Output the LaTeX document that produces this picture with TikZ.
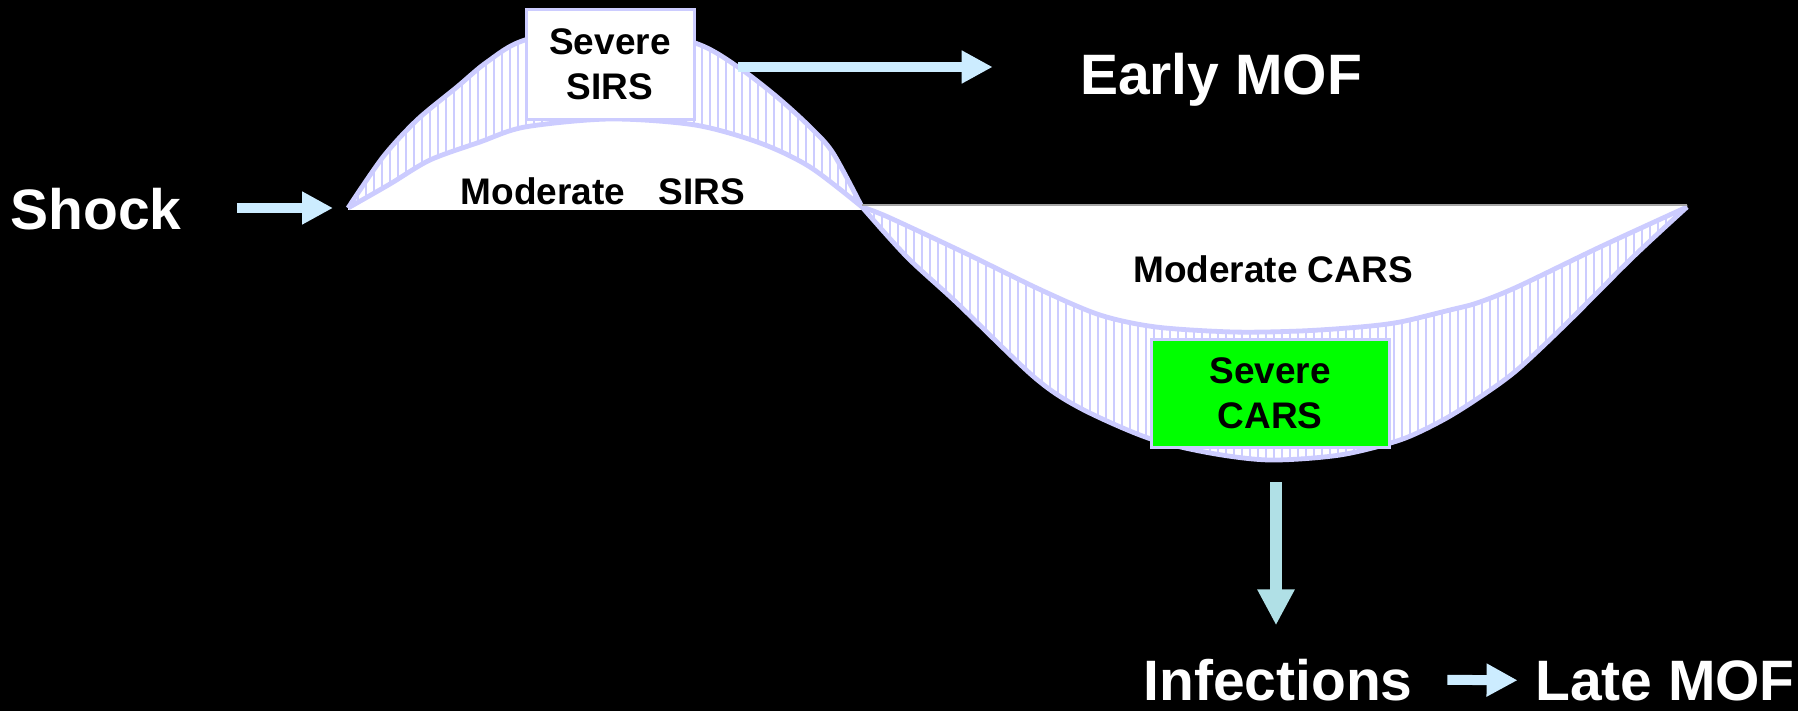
\documentclass[tikz,border=0pt]{standalone}
\usepackage{fontspec}
\setmainfont{Liberation Sans}
\usetikzlibrary{arrows.meta}

\definecolor{lavender}{RGB}{204,204,255}
\definecolor{arrowblue}{RGB}{204,236,255}
\definecolor{downblue}{RGB}{176,224,230}
\definecolor{severegreen}{RGB}{0,255,0}

\tikzset{
  biglabel/.style={text=white,inner sep=0pt,font=\fontsize{28.5}{30}\selectfont\bfseries},
  smalllabel/.style={text=black,inner sep=0pt,font=\fontsize{18.5}{22.5}\selectfont\bfseries},
  severebox/.style={smalllabel,draw=lavender,line width=1.5pt,align=center},
  fatarrow/.style={draw=arrowblue,line width=5pt,-{Triangle[width=15.5pt,length=15.5pt]}},
  downarrow/.style={draw=downblue,line width=6pt,-{Triangle[width=17.5pt,length=18pt]}},
  hatchline/.style={lavender,line width=1.4pt},
  rim/.style={lavender,line width=2.4pt,line join=round},
}

% the two curves of each wave (pixel units)
\newcommand{\sirsout}{plot[smooth] coordinates {(348,208) (383,157) (417,120) (457,87) (487,62) (525,40) (610,24) (695,43) (738,67) (777,97) (810,127) (833,153) (862,207)}}
\newcommand{\sirsin}{plot[smooth] coordinates {(348,208) (390,184) (430,160) (480,142) (525,127) (610,119) (695,125) (760,143) (810,167) (862,207)}}
\newcommand{\carsout}{plot[smooth] coordinates {(862,207) (907,257) (957,303) (1034,377) (1080,408) (1148,438) (1210,453) (1270,460) (1340,455) (1400,440) (1443,420) (1480,397) (1517,370) (1567,323) (1633,257) (1687,207)}}
\newcommand{\carsin}{plot[smooth] coordinates {(862,207) (888,217) (965,253) (1041,290) (1100,315) (1156,327) (1233,332) (1300,331) (1360,327) (1400,322) (1450,310) (1477,303) (1517,287) (1600,247) (1687,207)}}

\begin{document}
\begin{tikzpicture}[x=0.5pt,y=-0.5pt]
  \fill[black] (0,0) rectangle (1798,711);
  \useasboundingbox (0,0) rectangle (1798,711);

  % SIRS wave
  \fill[white] \sirsout -- (862,210) -- (348,210) -- cycle;
  \begin{scope}
    \clip \sirsout -- cycle;
    \foreach \x in {350,358,...,862}
      \draw[hatchline] (\x,0) -- (\x,210);
  \end{scope}
  \fill[white] \sirsin -- (862,210) -- (348,210) -- cycle;

  % CARS wave
  \fill[white] \carsout -- (1687,205) -- (862,205) -- cycle;
  \begin{scope}
    \clip \carsout -- cycle;
    \foreach \x in {866,874,...,1686}
      \draw[hatchline] (\x,200) -- (\x,470);
  \end{scope}
  \fill[white] \carsin -- (1687,205) -- (862,205) -- cycle;

  \draw[rim] \sirsout;
  \draw[rim] \sirsin;
  \draw[rim] \carsout;
  \draw[rim] \carsin;
  \draw[gray!70,line width=0.6pt] (862,205) -- (1687,205);

  % boxes and labels
  \node[severebox,fill=white,minimum width=84pt,minimum height=55pt] (sirsbox) at (610,64.5) {Severe\\SIRS};
  \node[severebox,fill=severegreen,minimum width=119pt,minimum height=54pt] (carsbox) at (1270,393) {Severe\\CARS};
  \node[smalllabel,anchor=base] (modsirs) at (603,205) {Moderate\hspace{0.9em}SIRS};
  \node[smalllabel,anchor=base] (modcars) at (1273,283) {Moderate CARS};

  \node[biglabel,anchor=base] (shock) at (96,230) {Shock};
  \node[biglabel,anchor=base] (earlymof) at (1221,95) {Early MOF};
  \node[biglabel,anchor=base] (infections) at (1278,700) {Infections};
  \node[biglabel,anchor=base] (latemof) at (1665,700) {Late MOF};

  \coordinate (sirsstart) at (348,208);
  \coordinate (sirsedge) at (738,67);
  \coordinate (troughlow) at (1276,462);

  % arrows
  \draw[fatarrow,shorten <=27.5pt,shorten >=7.5pt] (shock.east |- sirsstart) -- (sirsstart);
  \draw[fatarrow,shorten >=43.5pt] (sirsedge) -- (sirsedge -| earlymof.west);
  \draw[downarrow,shorten <=10pt,shorten >=16.5pt] (troughlow) -- (troughlow |- infections.north);
  \draw[fatarrow,shorten <=17.2pt,shorten >=8.6pt] (infections.east) -- (latemof.west);
\end{tikzpicture}
\end{document}
